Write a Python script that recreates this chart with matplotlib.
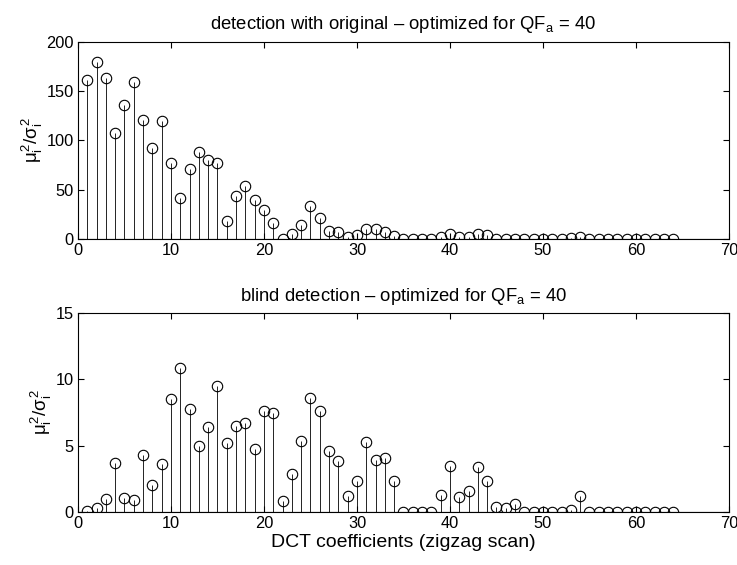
import numpy as np
import matplotlib.pyplot as plt

plt.rcParams['font.family'] = ['Liberation Sans', 'DejaVu Sans']
plt.rcParams['mathtext.fontset'] = 'custom'
plt.rcParams['mathtext.rm'] = 'Liberation Sans'
plt.rcParams['mathtext.it'] = 'Liberation Sans'

# DCT coefficient index (zigzag order)
coef = np.arange(1, 65)

# detection with original
snr_original = [161, 179, 163, 108, 136, 159, 121, 92, 120, 77,
                42, 71, 88, 80, 77, 19, 44, 54, 40, 30,
                16, 0.7, 5.4, 14.5, 34, 22, 8.8, 7.8, 2, 4.4,
                10, 10, 7.8, 3.4, 0, 0, 0.3, 0.3, 2.4, 5.4,
                2, 2.7, 5.7, 4, 0.7, 0.7, 0.3, 0, 0, 0.2,
                0, 0.3, 1, 2.4, 0.6, 0.3, 0.3, 0.3, 0.3, 0.3,
                0.6, 0.3, 0.3, 0]

# blind detection
snr_blind = [0.08, 0.35, 1.0, 3.74, 1.08, 0.93, 4.31, 2.08, 3.66, 8.53,
             10.84, 7.8, 4.97, 6.4, 9.5, 5.22, 6.5, 6.75, 4.77, 7.62,
             7.45, 0.85, 2.85, 5.38, 8.6, 7.62, 4.61, 3.89, 1.23, 2.38,
             5.32, 3.91, 4.09, 2.38, 0, 0, 0, 0, 1.33, 3.46,
             1.15, 1.58, 3.41, 2.36, 0.4, 0.33, 0.63, 0.02, 0.02, 0.02,
             0.02, 0.02, 0.15, 1.23, 0.05, 0.05, 0.05, 0.05, 0.05, 0.05,
             0.05, 0.05, 0.05, 0.05]

fig = plt.figure(figsize=(7.37, 5.65), dpi=100)
ax1 = fig.add_axes([0.1058, 0.5765, 0.8833, 0.3497])
ax2 = fig.add_axes([0.1058, 0.0933, 0.8833, 0.3527])


def stem_panel(ax, y, ymax, yticks, title):
    markers, stems, base = ax.stem(coef, y, linefmt='k-', markerfmt='ko', basefmt='k-')
    markers.set_markerfacecolor('none')
    markers.set_markersize(7.5)
    markers.set_markeredgewidth(0.8)
    stems.set_linewidth(0.6)
    base.set_linewidth(0.8)
    base.set_xdata([0, 70])
    ax.set_xlim(0, 70)
    ax.set_ylim(0, ymax)
    ax.set_xticks(np.arange(0, 71, 10))
    ax.set_yticks(yticks)
    ax.tick_params(direction='in', top=True, right=True, labelsize=11.8, length=4, pad=3)
    for s in ax.spines.values():
        s.set_linewidth(0.8)
    ax.set_ylabel(r'$\mu_i^2/\sigma_i^2$', fontsize=13.5, labelpad=1)
    ax.set_title(title, fontsize=13.3, pad=9)


stem_panel(ax1, snr_original, 200, [0, 50, 100, 150, 200],
           r'detection with original – optimized for QF$_a$ = 40')
stem_panel(ax2, snr_blind, 15, [0, 5, 10, 15],
           r'blind detection – optimized for QF$_a$ = 40')
ax2.set_xlabel('DCT coefficients (zigzag scan)', fontsize=14, labelpad=2)

fig.savefig('out.png', dpi=100)
